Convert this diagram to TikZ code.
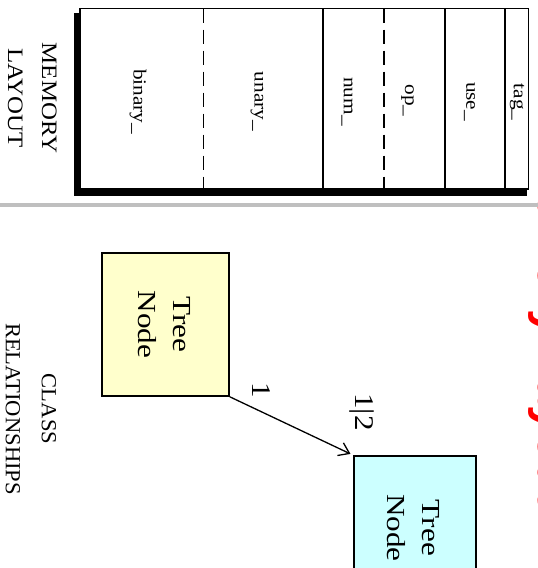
\documentclass[tikz,border=0pt]{standalone}
\usepackage{fontspec}
\usepackage{graphicx}
\setmainfont{Liberation Serif}
\newfontfamily\titlefont{Liberation Sans}
\usetikzlibrary{arrows.meta}
\definecolor{sepgray}{gray}{0.75}
\definecolor{nodeyellow}{HTML}{FFFFCC}
\definecolor{nodecyan}{HTML}{CCFFFF}
\definecolor{titlered}{HTML}{FF0000}
\newcommand{\stretched}[2]{\scalebox{#1}[1]{#2}}
\newcommand{\twolines}[2]{\begin{tabular}{@{}c@{}}#1\\#2\end{tabular}}
\begin{document}
\begin{tikzpicture}[x=1pt,y=-1pt,
  fieldlabel/.style={rotate=-90, font=\fontsize{18.5}{22}\selectfont, inner sep=0pt},
  sectionlabel/.style={rotate=-90, inner sep=0pt},
  classbox/.style={rotate=-90, draw, line width=1.6pt, inner sep=0pt,
     font=\fontsize{26}{35}\selectfont},
  multlabel/.style={rotate=-90, font=\fontsize{27}{30}\selectfont, inner sep=0pt},
  divider/.style={line width=1.6pt},
  dashdivider/.style={line width=1.6pt, dash pattern=on 14pt off 7pt},
  assoc/.style={line width=1.3pt, -{Straight Barb[length=10pt,width=14pt,line width=1.3pt]}, shorten >=3pt}
]
\useasboundingbox (0,0) rectangle (538,568);

% red title, almost entirely outside the page
\node[rotate=-90, anchor=base west, inner sep=0pt, text=titlered,
      font=\titlefont\bfseries\fontsize{48}{52}\selectfont] (title) at (538.3,152) {Memory Layout};

% memory layout block with shadow
\fill[black] (74,13) rectangle (527,196);
\draw[fill=white, line width=1.6pt] (80,8.5) rectangle (528.5,189);
\draw[dashdivider] (203.5,8.5) -- (203.5,189);
\draw[divider] (323,8.5) -- (323,189);
\draw[dashdivider] (384,8.5) -- (384,189);
\draw[divider] (445,8.5) -- (445,189);
\draw[divider] (505,8.5) -- (505,189);

\node[fieldlabel] (binary) at (138,101.5) {\stretched{1.15}{binary\_}};
\node[fieldlabel] (unary) at (257,101.5) {\stretched{1.15}{unary\_}};
\node[fieldlabel] (num) at (347,101.5) {\stretched{1.15}{num\_}};
\node[fieldlabel] (op) at (407.5,100.5) {\stretched{1.15}{op\_}};
\node[fieldlabel] (use) at (469.5,101.5) {\stretched{1.15}{use\_}};
\node[fieldlabel] (tag) at (517,102) {\stretched{1.15}{tag\_}};

\node[sectionlabel, font=\fontsize{22}{34}\selectfont] (memlabel) at (32,98) {\stretched{1.13}{\twolines{MEMORY}{LAYOUT}}};

% separator
\draw[sepgray, line width=4pt] (0,205) -- (538,205);

\node[sectionlabel, font=\fontsize{21.5}{36}\selectfont] (clslabel) at (31,409) {\stretched{1.05}{\twolines{CLASS}{RELATIONSHIPS}}};

% class boxes
\node[classbox, fill=nodeyellow, minimum width=143pt, minimum height=127pt] (tn1) at (165.5,324.5) {};
\node[classbox, fill=nodecyan, minimum width=144pt, minimum height=122pt] (tn2) at (415,528) {};
\node[rotate=-90, inner sep=0pt, font=\fontsize{26}{35}\selectfont] (tn1text) at ([xshift=-3pt]tn1.center) {\stretched{1.2}{\twolines{Tree}{Node}}};
\node[rotate=-90, inner sep=0pt, font=\fontsize{26}{35}\selectfont] (tn2text) at ([xshift=-3pt]tn2.center) {\stretched{1.2}{\twolines{Tree}{Node}}};

\draw[assoc] (tn1.north east) -- (tn2.south west);

\node[multlabel] (m1) at (261,390) {\stretched{1.15}{1}};
\node[multlabel] (m2) at (362,412) {\stretched{1.15}{1|2}};
\end{tikzpicture}
\end{document}
